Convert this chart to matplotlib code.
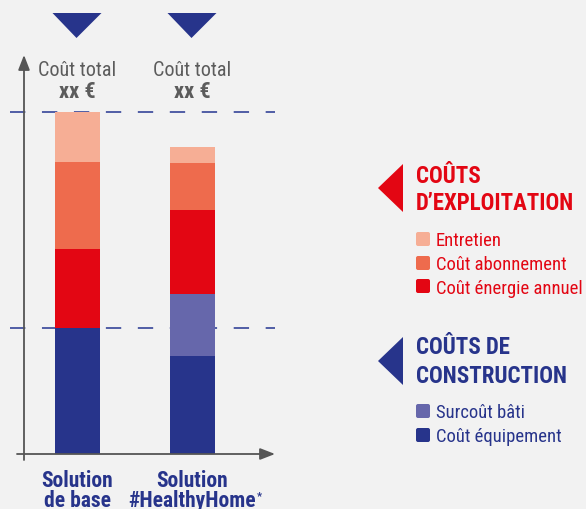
import matplotlib
matplotlib.use("Agg")
import matplotlib.pyplot as plt
from matplotlib import font_manager
from matplotlib.patches import Polygon, FancyBboxPatch

# values (base solution total = 100)
solutions = ["Solution\nde base", "Solution\n#HealthyHome"]
cout_equipement = [36.8, 28.7]
surcout_bati = [0.0, 18.1]
cout_energie = [23.1, 24.6]
cout_abonnement = [25.4, 13.7]
entretien = [14.6, 4.7]

NAVY = "#27348b"
PURPLE = "#6667ab"
RED = "#e30613"
ORANGE = "#ee6b4d"
SALMON = "#f6ae95"
GREY = "#5c5c5c"
BG = "#f2f2f2"

installed = {f.name for f in font_manager.fontManager.ttflist}
FONT = next((f for f in ["Liberation Sans Narrow", "Roboto Condensed", "Liberation Sans"]
             if f in installed), "DejaVu Sans")
plt.rcParams["font.family"] = [FONT, "DejaVu Sans"]

W, H = 586, 509
fig = plt.figure(figsize=(W / 100, H / 100), dpi=100, facecolor=BG)

# bar axes: y axis at x=24px, baseline at y=454px, 3.42 px per unit
PX_PER_UNIT = 3.42
ax = fig.add_axes([24 / W, (H - 454) / H, 251 / W, 399 / H])
ax.set_facecolor("none")
ax.set_xlim(-53.5 / 115, (251 - 53.5) / 115)
ax.set_ylim(0, 399 / PX_PER_UNIT)
for s in ax.spines.values():
    s.set_visible(False)
ax.set_xticks([])
ax.set_yticks([])

x = [0, 1]
bw = 45 / 115
stack = [
    (cout_equipement, NAVY),
    (surcout_bati, PURPLE),
    (cout_energie, RED),
    (cout_abonnement, ORANGE),
    (entretien, SALMON),
]
bottom = [0.0, 0.0]
for vals, col in stack:
    ax.bar(x, vals, bw, bottom=bottom, color=col, linewidth=0, zorder=3)
    bottom = [b + v for b, v in zip(bottom, vals)]

# dashed reference lines: base total and base construction cost
x_left = -53.5 / 115 - 14 / 115
for yref in [bottom[0], cout_equipement[0]]:
    ax.plot([x_left, (251 - 53.5) / 115], [yref, yref], color="#4452a0", lw=1.3,
            linestyle=(0, (8.5, 9.2)), zorder=1, clip_on=False)

# axes arrows
ax.annotate("", xy=(0, 1), xytext=(0, -6 / 399), xycoords="axes fraction",
            arrowprops=dict(arrowstyle="-|>,head_length=0.9,head_width=0.35",
                            color="#555555", lw=1.3, shrinkA=0, shrinkB=0))
ax.annotate("", xy=(1, 0), xytext=(-7 / 251, 0), xycoords="axes fraction",
            arrowprops=dict(arrowstyle="-|>,head_length=0.9,head_width=0.35",
                            color="#555555", lw=1.3, shrinkA=0, shrinkB=0))

# overlay in pixel coordinates for decorations
ov = fig.add_axes([0, 0, 1, 1])
ov.set_xlim(0, W)
ov.set_ylim(H, 0)
ov.axis("off")
ov.set_facecolor("none")

centers = [77.5, 192.5]
for cx in centers:
    ov.add_patch(Polygon([(cx - 25, 13), (cx + 24, 13), (cx - 1, 38)],
                         closed=True, color=NAVY, lw=0))
    ov.text(cx, 76, "Coût total", ha="center", va="baseline", fontsize=14.5,
            color=GREY)
    ov.text(cx, 98, "xx €", ha="center", va="baseline", fontsize=16,
            color=GREY, fontweight="bold")

ov.text(centers[0], 487, "Solution", ha="center", va="baseline",
        fontsize=15.5, color=NAVY, fontweight="bold")
ov.text(centers[0], 507, "de base", ha="center", va="baseline",
        fontsize=15.5, color=NAVY, fontweight="bold")
ov.text(centers[1], 487, "Solution", ha="center", va="baseline",
        fontsize=15.5, color=NAVY, fontweight="bold")
hh = ov.text(centers[1], 507, "#HealthyHome", ha="center", va="baseline",
             fontsize=15.5, color=NAVY, fontweight="bold")
ov.annotate("*", xy=(1, 1), xycoords=hh, xytext=(0.5, -0.5), textcoords="offset points",
            ha="left", va="top", fontsize=8, color=NAVY, fontweight="bold")


def legend_block(tri_top, title, title_base, items, color):
    ov.add_patch(Polygon([(378, tri_top + 24), (403, tri_top), (403, tri_top + 48)],
                         closed=True, color=color, lw=0))
    for line, yb in zip(title, title_base):
        ov.text(416, yb, line, ha="left", va="baseline", fontsize=16.5,
                color=color, fontweight="bold")
    for (label, col), ytop in items:
        ov.add_patch(FancyBboxPatch((416, ytop), 14, 14,
                                    boxstyle="round,pad=0,rounding_size=2",
                                    color=col, lw=0))
        ov.text(436, ytop + 14.5, label, ha="left", va="baseline", fontsize=13.4,
                color=color)


legend_block(164, ["COÛTS", "D\u2019EXPLOITATION"], [183, 210],
             [(("Entretien", SALMON), 232), (("Coût abonnement", ORANGE), 256),
              (("Coût énergie annuel", RED), 279)], RED)
legend_block(337, ["COÛTS DE", "CONSTRUCTION"], [354, 383],
             [(("Surcoût bâti", PURPLE), 404), (("Coût équipement", NAVY), 428)], NAVY)

fig.savefig("out.png", dpi=100, facecolor=BG)
